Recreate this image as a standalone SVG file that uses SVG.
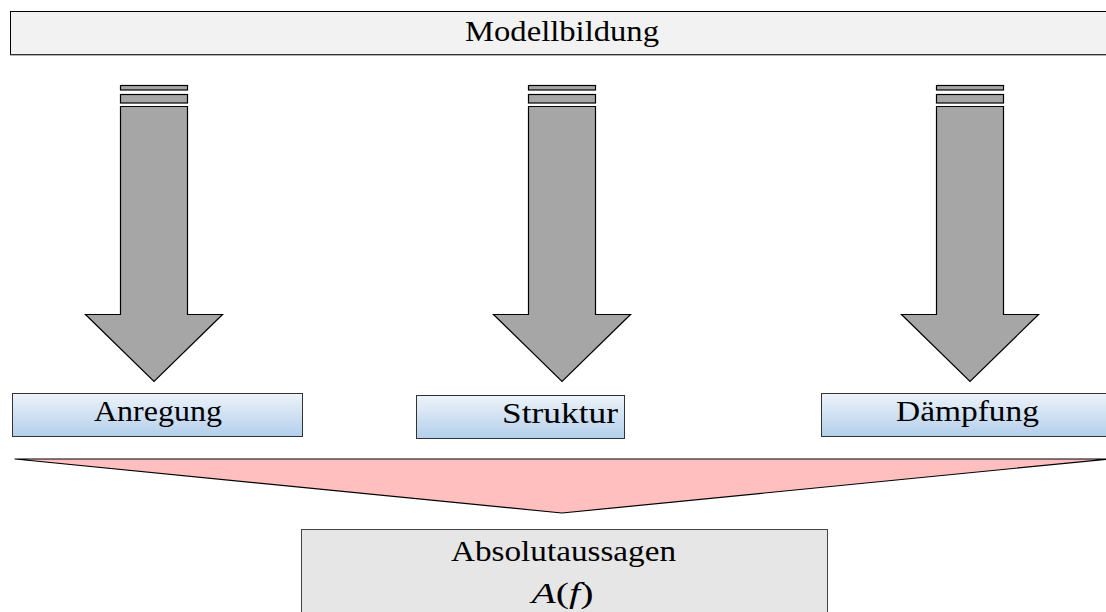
<svg xmlns="http://www.w3.org/2000/svg" width="1106" height="612" viewBox="0 0 1106 612">
<defs>
<linearGradient id="blue" x1="0" y1="0" x2="0" y2="1">
<stop offset="0" stop-color="#edf3fa"/>
<stop offset="1" stop-color="#b3cfeb"/>
</linearGradient>
<style>
text{font-family:'Liberation Serif','DejaVu Serif',serif;font-size:29px;fill:#000;text-anchor:middle}
.arr{fill:#a6a6a6;stroke:#000;stroke-width:1.2}
.bx{fill:url(#blue);stroke:#333;stroke-width:1}
</style>
</defs>
<rect width="1106" height="612" fill="#fff"/>
<g id="modellbildung">
<rect x="10.5" y="11.5" width="1110" height="43" fill="#f2f2f2" stroke="#000" stroke-width="1"/>
<line x1="10" y1="55" x2="1106" y2="55" stroke="#666" stroke-width="1"/>
<text x="562" y="40.5" textLength="194" lengthAdjust="spacingAndGlyphs">Modellbildung</text>
</g>
<g id="arrows">
<g id="arrow1">
<rect class="arr" x="120.5" y="85.5" width="67" height="4.5"/>
<rect class="arr" x="120.5" y="94.5" width="67" height="8.5"/>
<polygon class="arr" points="120.5,106.5 187.5,106.5 187.5,314.5 222.5,314.5 154,381.5 85.5,314.5 120.5,314.5"/>
</g>
<g id="arrow2">
<rect class="arr" x="528.5" y="85.5" width="67" height="4.5"/>
<rect class="arr" x="528.5" y="94.5" width="67" height="8.5"/>
<polygon class="arr" points="528.5,106.5 595.5,106.5 595.5,314.5 630.5,314.5 562,381.5 493.5,314.5 528.5,314.5"/>
</g>
<g id="arrow3">
<rect class="arr" x="936.5" y="85.5" width="67" height="4.5"/>
<rect class="arr" x="936.5" y="94.5" width="67" height="8.5"/>
<polygon class="arr" points="936.5,106.5 1003.5,106.5 1003.5,314.5 1038.5,314.5 970,381.5 901.5,314.5 936.5,314.5"/>
</g>
</g>
<g id="anregung">
<rect class="bx" x="12.5" y="393.5" width="290" height="43"/>
<text x="158" y="421" textLength="128" lengthAdjust="spacingAndGlyphs">Anregung</text>
</g>
<g id="struktur">
<rect class="bx" x="416.5" y="395.5" width="208" height="43"/>
<text x="560" y="423" textLength="116" lengthAdjust="spacingAndGlyphs">Struktur</text>
</g>
<g id="daempfung">
<rect class="bx" x="821.5" y="393.5" width="292" height="43"/>
<text x="967.5" y="421" textLength="143" lengthAdjust="spacingAndGlyphs">Dämpfung</text>
</g>
<g id="merge">
<polygon points="15,459 1109,459 562,513" fill="#ffbfbf" stroke="#000" stroke-width="1.2" stroke-linejoin="round"/>
</g>
<g id="absolutaussagen">
<rect x="301.5" y="529.5" width="526" height="90" fill="#e6e6e6" stroke="#444" stroke-width="1"/>
<text x="563.5" y="561" textLength="225" lengthAdjust="spacingAndGlyphs">Absolutaussagen</text>
<text x="562.5" y="603" font-size="31" textLength="62" lengthAdjust="spacingAndGlyphs"><tspan font-style="italic">A</tspan>(<tspan font-style="italic">f</tspan>)</text>
</g>
</svg>
